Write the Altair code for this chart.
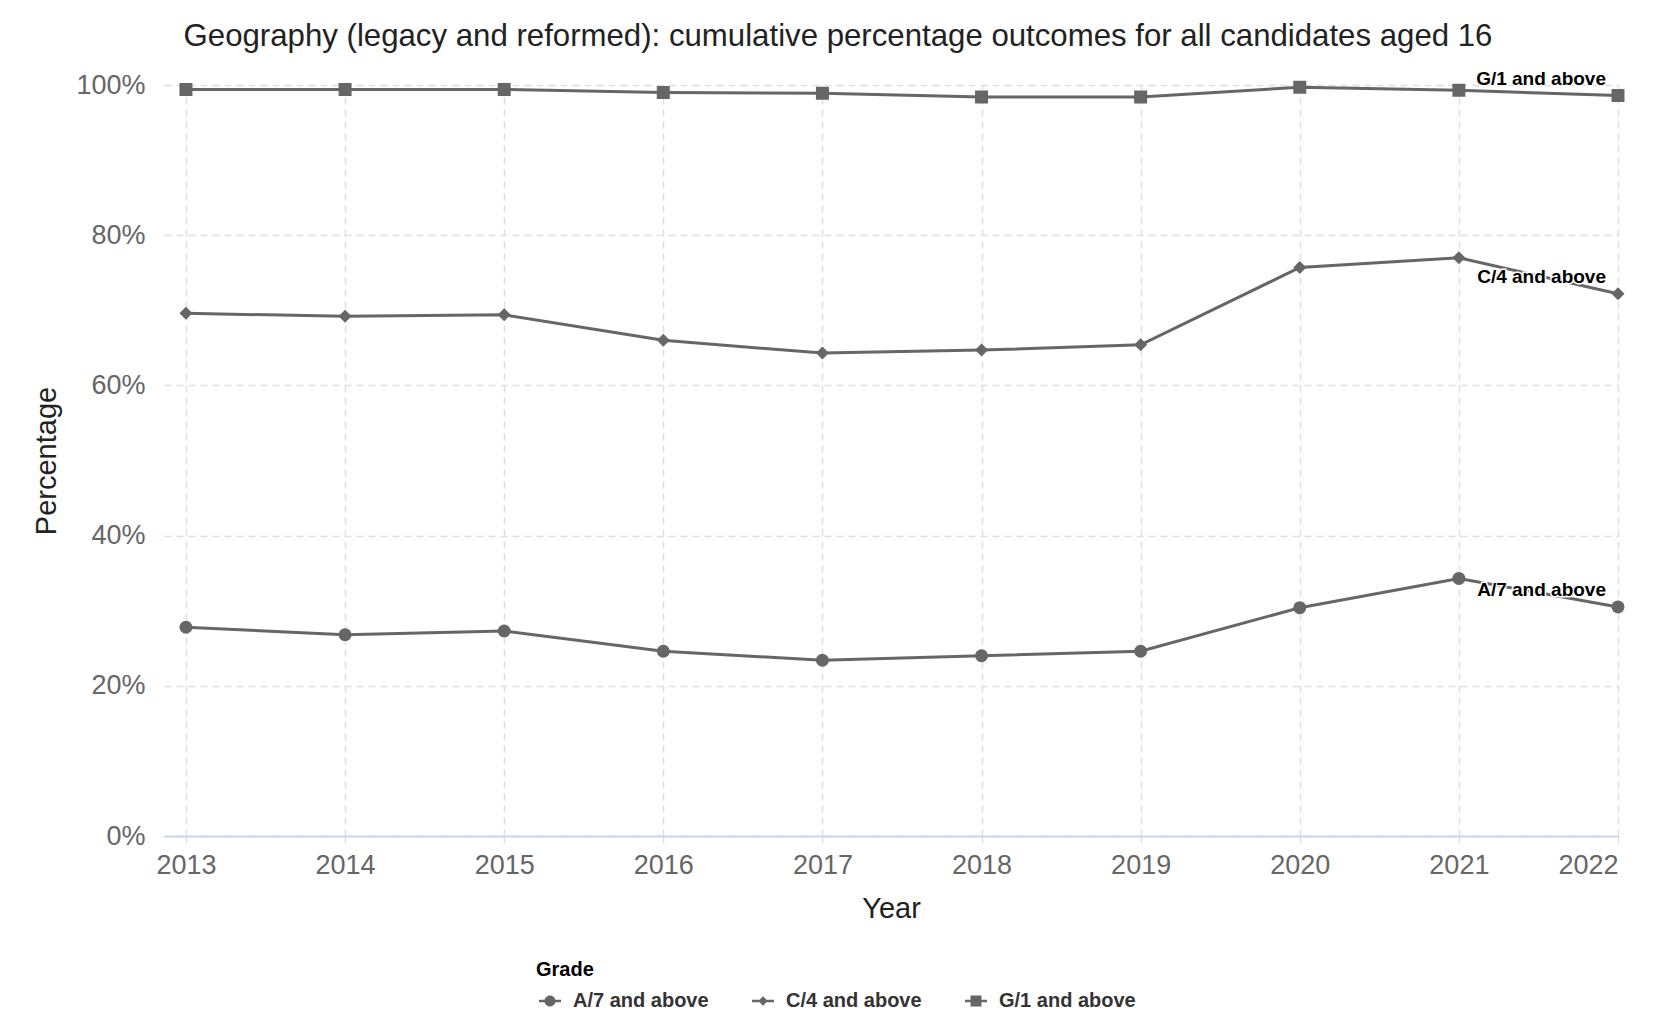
import altair as alt
import pandas as pd

years = [2013, 2014, 2015, 2016, 2017, 2018, 2019, 2020, 2021, 2022]
grades = ["A/7 and above", "C/4 and above", "G/1 and above"]
a7 = [27.8, 26.8, 27.3, 24.6, 23.4, 24.0, 24.6, 30.4, 34.3, 30.5]
c4 = [69.6, 69.2, 69.4, 66.0, 64.3, 64.7, 65.4, 75.7, 77.0, 72.2]
g1 = [99.4, 99.4, 99.4, 99.0, 98.9, 98.4, 98.4, 99.7, 99.3, 98.6]
series = {grades[0]: a7, grades[1]: c4, grades[2]: g1}

rows = []
for g, vals in series.items():
    for y, v in zip(years, vals):
        rows.append({"Year": y, "Percentage": v, "Grade": g})
df = pd.DataFrame(rows)
last = df[df["Year"] == years[-1]]

FONT = "Liberation Sans"
GREY = "#666666"

x = alt.X("Year:Q",
          scale=alt.Scale(domain=[2012.862, 2022], nice=False, zero=False),
          axis=alt.Axis(values=years, format="d", title="Year",
                        labelFontSize=27, labelColor=GREY, labelFont=FONT,
                        labelPadding=8, tickSize=8, tickColor="#e0e0e0",
                        tickDash=[7, 5], tickWidth=1.5,
                        domainColor="#ccd6eb", domainWidth=2,
                        grid=True, gridDash=[7, 5], gridColor="#e0e0e0", gridWidth=1.5,
                        titleFontSize=29, titleFont=FONT, titleColor="#222",
                        titleFontWeight="normal", titlePadding=16))
y = alt.Y("Percentage:Q",
          scale=alt.Scale(domain=[0, 100], nice=False),
          axis=alt.Axis(values=[0, 20, 40, 60, 80, 100],
                        labelExpr="datum.value + '%'", title="Percentage",
                        labelFontSize=27, labelColor=GREY, labelFont=FONT,
                        labelPadding=19, ticks=False, domain=False,
                        grid=True, gridDash=[7, 5], gridColor="#e0e0e0", gridWidth=1.5,
                        titleFontSize=29, titleFont=FONT, titleColor="#222",
                        titleFontWeight="normal", titlePadding=14))

lines = alt.Chart(df).mark_line(color=GREY, strokeWidth=3).encode(
    x=x, y=y, detail="Grade:N")

points = alt.Chart(df).mark_point(filled=True, color=GREY, opacity=1, size=169).encode(
    x=x, y=y,
    shape=alt.Shape("Grade:N",
                    scale=alt.Scale(domain=grades, range=["circle", "diamond", "square"]),
                    legend=None))

# legend symbols: a short line segment with the marker on it (filled shapes only)
legend_paths = [
    "M-2,-0.22H2V0.22H-2ZM1,0A1,1,0,1,1,-1,0A1,1,0,1,1,1,0Z",
    "M-2,-0.22H2V0.22H-2ZM0,-0.85L0.85,0L0,0.85L-0.85,0Z",
    "M-2,-0.22H2V0.22H-2ZM-1,-1H1V1H-1Z",
]
legend_layer = alt.Chart(df).mark_point(filled=True, color=GREY, opacity=0).encode(
    x=x, y=y,
    shape=alt.Shape("Grade:N",
                    scale=alt.Scale(domain=grades, range=legend_paths),
                    legend=alt.Legend(title="Grade", orient="none", direction="horizontal",
                                      legendX=372, legendY=875,
                                      titleFontSize=20, titleFont=FONT, titleColor="#000",
                                      titleFontWeight="bold", titlePadding=11,
                                      labelFontSize=20, labelFont=FONT, labelColor="#333",
                                      labelFontWeight="bold", labelOffset=13,
                                      symbolSize=121, symbolOpacity=1, symbolOffset=4,
                                      symbolFillColor=GREY,
                                      columnPadding=40)))

halo = alt.Chart(last).mark_text(align="right", baseline="middle", dx=-12, dy=-17,
                                 fontSize=19, fontWeight="bold", font=FONT,
                                 color="white", stroke="white", strokeWidth=3).encode(
    x=x, y=y, text="Grade:N")
labels = alt.Chart(last).mark_text(align="right", baseline="middle", dx=-12, dy=-17,
                                   fontSize=19, fontWeight="bold", font=FONT,
                                   color="#000").encode(
    x=x, y=y, text="Grade:N")

chart = alt.layer(lines, points, legend_layer, halo, labels).resolve_scale(
    shape="independent"
).properties(
    width=1454, height=751,
    autosize=alt.AutoSizeParams(type="none"),
    padding={"left": 156, "top": 77, "right": 30, "bottom": 180},
    title=alt.Title("Geography (legacy and reformed): cumulative percentage outcomes for all candidates aged 16",
                    fontSize=31.2, font=FONT, fontWeight="normal", color="#222",
                    anchor="middle", dx=-53, offset=17),
).configure_view(stroke=None)

chart.save("out.html", embed_options={"renderer": "svg", "actions": False})
